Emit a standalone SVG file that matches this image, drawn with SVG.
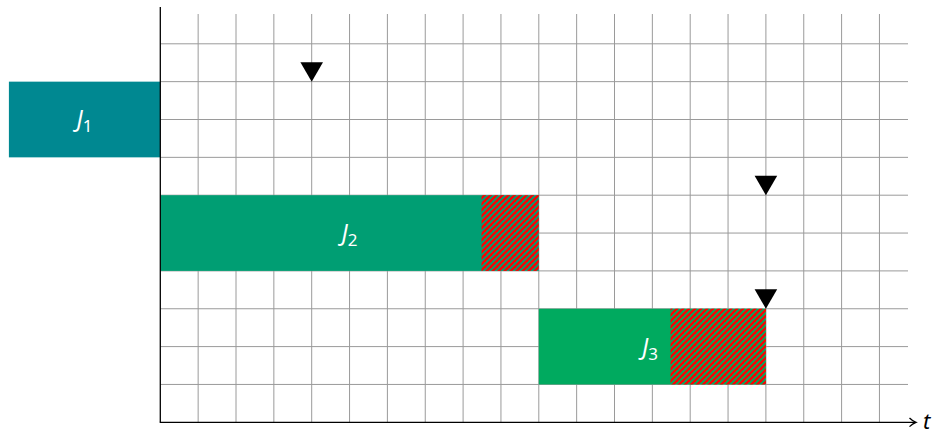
<svg xmlns="http://www.w3.org/2000/svg" width="941" height="434" viewBox="0 0 941 434">
<defs>
<style>
.grid line{stroke:#9a9a9a;stroke-width:1}
.axis{stroke:#000;stroke-width:1.3;fill:none}
.lbl{font-family:"Noto Sans","DejaVu Sans",sans-serif;fill:#fff;font-size:23px}
.it{font-style:italic}
.sub{font-size:17px;font-style:normal}
.tri{fill:#000}
</style>
<pattern id="hatch" patternUnits="userSpaceOnUse" width="6" height="6">
<polygon points="0,0 3.3,0 0,3.3" fill="#ff0000"/>
<polygon points="6,0 6,3.3 3.3,6 0,6" fill="#ff0000"/>
</pattern>
</defs>
<rect width="941" height="434" fill="#fff"/>
<g id="grid" class="grid">
<line x1="198.15" y1="14" x2="198.15" y2="422.3"/>
<line x1="236" y1="14" x2="236" y2="422.3"/>
<line x1="273.85" y1="14" x2="273.85" y2="422.3"/>
<line x1="311.7" y1="14" x2="311.7" y2="422.3"/>
<line x1="349.55" y1="14" x2="349.55" y2="422.3"/>
<line x1="387.4" y1="14" x2="387.4" y2="422.3"/>
<line x1="425.25" y1="14" x2="425.25" y2="422.3"/>
<line x1="463.1" y1="14" x2="463.1" y2="422.3"/>
<line x1="500.95" y1="14" x2="500.95" y2="422.3"/>
<line x1="538.8" y1="14" x2="538.8" y2="422.3"/>
<line x1="576.65" y1="14" x2="576.65" y2="422.3"/>
<line x1="614.5" y1="14" x2="614.5" y2="422.3"/>
<line x1="652.35" y1="14" x2="652.35" y2="422.3"/>
<line x1="690.2" y1="14" x2="690.2" y2="422.3"/>
<line x1="728.05" y1="14" x2="728.05" y2="422.3"/>
<line x1="765.9" y1="14" x2="765.9" y2="422.3"/>
<line x1="803.75" y1="14" x2="803.75" y2="422.3"/>
<line x1="841.6" y1="14" x2="841.6" y2="422.3"/>
<line x1="879.45" y1="14" x2="879.45" y2="422.3"/>
<line x1="160.3" y1="384.45" x2="908" y2="384.45"/>
<line x1="160.3" y1="346.6" x2="908" y2="346.6"/>
<line x1="160.3" y1="308.75" x2="908" y2="308.75"/>
<line x1="160.3" y1="270.9" x2="908" y2="270.9"/>
<line x1="160.3" y1="233.05" x2="908" y2="233.05"/>
<line x1="160.3" y1="195.2" x2="908" y2="195.2"/>
<line x1="160.3" y1="157.35" x2="908" y2="157.35"/>
<line x1="160.3" y1="119.5" x2="908" y2="119.5"/>
<line x1="160.3" y1="81.65" x2="908" y2="81.65"/>
<line x1="160.3" y1="43.8" x2="908" y2="43.8"/>
</g>
<g id="J1">
<rect x="8.9" y="81.65" width="151.4" height="75.7" fill="#008891"/>
<text class="lbl" x="84.5" y="127" text-anchor="middle"><tspan class="it">J</tspan><tspan class="sub" dy="5">1</tspan></text>
</g>
<g id="J2">
<rect x="160.3" y="195.2" width="378.5" height="75.7" fill="#009e73"/>
<rect x="481.5" y="195.2" width="57.3" height="75.7" fill="url(#hatch)"/>
<text class="lbl" x="349.5" y="241" text-anchor="middle"><tspan class="it">J</tspan><tspan class="sub" dy="5">2</tspan></text>
</g>
<g id="J3">
<rect x="538.8" y="308.75" width="227.1" height="75.7" fill="#00aa5f"/>
<rect x="670.5" y="308.75" width="95.4" height="75.7" fill="url(#hatch)"/>
<text class="lbl" x="650" y="354.5" text-anchor="middle"><tspan class="it">J</tspan><tspan class="sub" dy="5">3</tspan></text>
</g>
<g id="connectors">
<line class="axis" x1="160.3" y1="7" x2="160.3" y2="422.3"/>
<line class="axis" x1="159.7" y1="422.3" x2="915" y2="422.3"/>
<path class="axis" d="M909.5,418 Q912.5,421 916,422.3 Q912.5,423.6 909.5,426.6"/>
<polygon class="tri" points="300.4,62.2 323,62.2 311.7,81.65"/>
<polygon class="tri" points="754.6,175.8 777.2,175.8 765.9,195.2"/>
<polygon class="tri" points="754.6,289.3 777.2,289.3 765.9,308.75"/>
</g>
<text x="923" y="429" font-family="Noto Sans, DejaVu Sans, sans-serif" font-style="italic" font-size="22" fill="#000">t</text>
</svg>
